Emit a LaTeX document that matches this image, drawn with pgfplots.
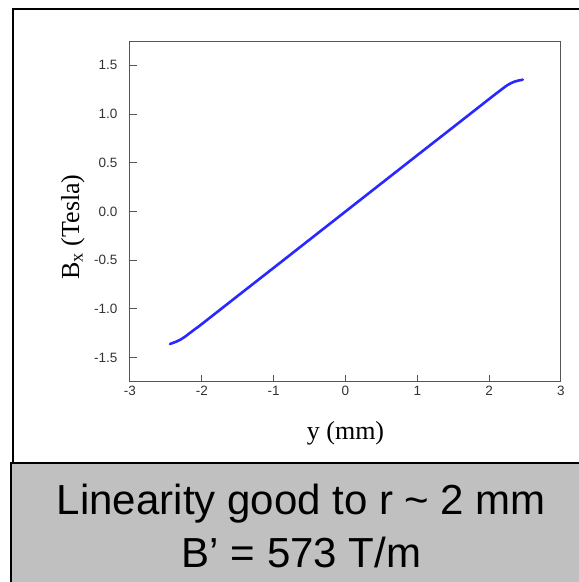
\documentclass[border=0pt]{standalone}
\usepackage{fontspec}
\setmainfont{Liberation Serif}
\newfontfamily\arial{Liberation Sans}
\usepackage{pgfplots}
\pgfplotsset{compat=1.18}
\definecolor{boxgray}{RGB}{192,192,192}
\definecolor{curveblue}{RGB}{40,40,255}
\definecolor{axgray}{RGB}{85,85,85}
\begin{document}
\begin{tikzpicture}[x=1pt,y=1pt]
\useasboundingbox (0,0) rectangle (579,582);
\clip (0,0) rectangle (579,582);
\fill[white] (0,0) rectangle (579,582);
% outer frame (top part)
\draw[line width=2.5pt] (13,119) -- (13,573) -- (600,573);
% axis
\begin{axis}[
  at={(130pt,200pt)}, anchor=south west,
  width=431pt, height=341pt, scale only axis,
  xmin=-3, xmax=3, ymin=-1.75, ymax=1.75,
  xtick={-3,-2,-1,0,1,2,3},
  xticklabels={-3,-2,-1,0,1,2,3},
  ytick={-1.5,-1,-0.5,0,0.5,1,1.5},
  yticklabels={-1.5,-1.0,-0.5,0.0,0.5,1.0,1.5},
  xtick pos=left, ytick pos=left,
  tick align=inside,
  major tick length=7pt,
  axis line style={draw=axgray, line width=1pt},
  tick style={draw=axgray, line width=1pt},
  tick label style={font=\fontsize{13.5}{15}\arial, text=black!80},
  yticklabel style={xshift=-9pt},
  xticklabel style={yshift=-1pt},
  clip=false,
]
\addplot[curveblue, line width=2.6pt, smooth, line cap=round] coordinates {
(-2.443,-1.360) (-2.40,-1.348) (-2.35,-1.334) (-2.30,-1.316) (-2.25,-1.293)
(-2.20,-1.266) (-2.10,-1.210) (-2.00,-1.155) (-1.50,-0.866) (-1.00,-0.578)
(-0.50,-0.289) (0.00,0.000) (0.50,0.289) (1.00,0.578) (1.50,0.866)
(2.00,1.155) (2.10,1.212) (2.20,1.268) (2.25,1.295) (2.30,1.316)
(2.35,1.332) (2.40,1.343) (2.469,1.353)
};
\end{axis}
% axis labels
\node[anchor=base, font=\fontsize{26}{30}\selectfont] at (345.5,142) {y (mm)};
\node[anchor=base, rotate=90, font=\fontsize{26}{30}\selectfont] at (79,355) {B\textsubscript{x} (Tesla)};
% gray box
\draw[line width=1.5pt, fill=boxgray] (11,119) rectangle (620,-20);
\node[anchor=base, font=\fontsize{42}{48}\arial] at (301.5,67) {Linearity good to r \textasciitilde{} 2 mm};
\node[anchor=base, font=\fontsize{42}{48}\arial] at (301.5,15) {B’ = 573 T/m};
\end{tikzpicture}
\end{document}
